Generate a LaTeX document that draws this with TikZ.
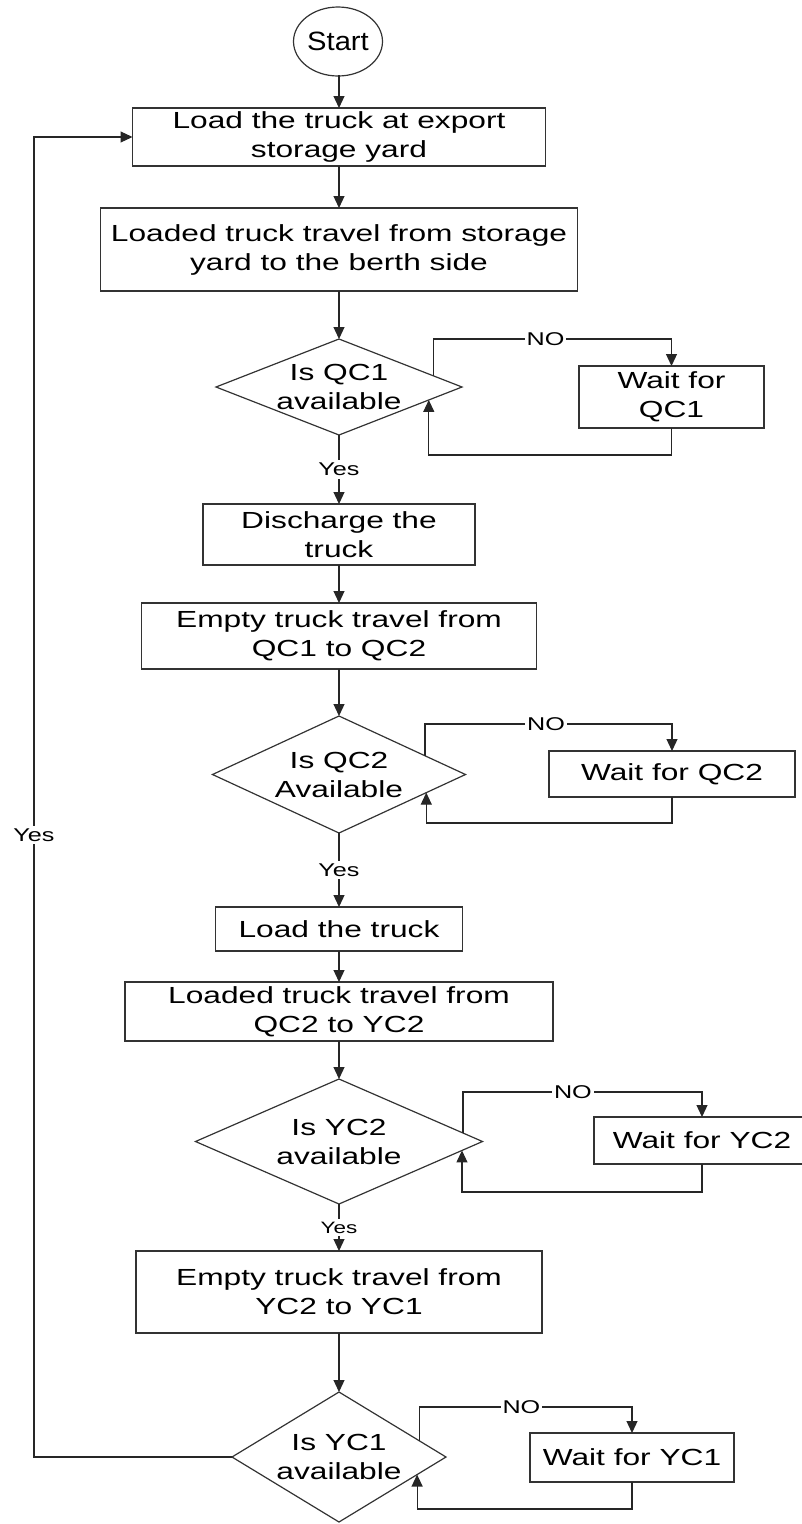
\documentclass[tikz,border=0pt]{standalone}
\usepackage{fontspec}
\setmainfont{Liberation Sans}[FakeStretch=1.36]
\newfontfamily\startfont{Liberation Sans}[FakeStretch=1.1]
\usetikzlibrary{shapes.geometric,arrows.meta,calc}

\begin{document}
\begin{tikzpicture}[x=1pt,y=-1pt,
  line/.style={draw=black!85, line width=1.2pt},
  arr/.style={line, -{Triangle[length=12pt,width=11pt]}},
  mainfont/.style={font=\fontsize{23.3}{29}\selectfont},
  stepbox/.style={draw=black!80, line width=1.2pt, rectangle, inner sep=0pt,
    outer sep=0pt, align=center, mainfont},
  terminal/.style={draw=black!80, line width=1.2pt, ellipse, inner sep=0pt,
    outer sep=0pt, font=\startfont\fontsize{26.5}{29}\selectfont},
  decision/.style={draw=black!80, line width=1.2pt, diamond, inner sep=0pt,
    outer sep=0pt},
  qtext/.style={align=center, inner sep=0pt, mainfont},
  lbl/.style={fill=white, inner xsep=2pt, inner ysep=3pt,
    font=\fontsize{18.5}{20}\selectfont},
  lblsmall/.style={lbl, font=\fontsize{16.5}{18}\selectfont},
]
\useasboundingbox (0,0) rectangle (801,1524);

% ---- main column ----
\node[terminal, minimum width=89pt, minimum height=69pt] (start) at (338,41.5) {Start};
\node[stepbox, minimum width=413pt, minimum height=58pt] (b1) at (339,137)
  {Load the truck at export\\storage yard};
\node[stepbox, minimum width=477pt, minimum height=83pt] (b2) at (339,249.5)
  {Loaded truck travel from storage\\yard to the berth side};
\node[decision, minimum width=246pt, minimum height=96pt] (d1) at (339,387) {};
\node[qtext] (t1) at (d1) {Is QC1\\available};
\node[stepbox, minimum width=272pt, minimum height=61pt] (b3) at (339,534.5)
  {Discharge the\\truck};
\node[stepbox, minimum width=395pt, minimum height=66pt] (b4) at (339,636)
  {Empty truck travel from\\QC1 to QC2};
\node[decision, minimum width=253pt, minimum height=117pt] (d2) at (339,774.5) {};
\node[qtext] (t2) at (d2) {Is QC2\\Available};
\node[stepbox, minimum width=247pt, minimum height=44pt] (b5) at (339,929)
  {Load the truck};
\node[stepbox, minimum width=428pt, minimum height=59pt] (b6) at (339,1011.5)
  {Loaded truck travel from\\QC2 to YC2};
\node[decision, minimum width=287pt, minimum height=125pt] (d3) at (339,1141.5) {};
\node[qtext] (t3) at (d3) {Is YC2\\available};
\node[stepbox, minimum width=406pt, minimum height=82pt] (b7) at (339,1292)
  {Empty truck travel from\\YC2 to YC1};
\node[decision, minimum width=214pt, minimum height=130pt] (d4) at (339,1457) {};
\node[qtext] (t4) at (d4) {Is YC1\\available};

% ---- waiting boxes ----
\node[stepbox, minimum width=185pt, minimum height=62pt] (w1) at (671.5,397)
  {Wait for\\QC1};
\node[stepbox, minimum width=246pt, minimum height=46pt] (w2) at (672,774)
  {Wait for QC2};
\node[stepbox, minimum width=216pt, minimum height=47pt] (w3) at (702,1140.5)
  {Wait for YC2};
\node[stepbox, minimum width=204pt, minimum height=49pt] (w4) at (632,1457.5)
  {Wait for YC1};

% ---- main flow ----
\draw[arr] (start.south) -- (start.south -| b1.north) -- (b1.north);
\draw[arr] (b1.south) -- (b2.north);
\draw[arr] (b2.south) -- (d1.north);
\draw[arr] (d1.south) -- node[lbl] {Yes} (b3.north);
\draw[arr] (b3.south) -- (b4.north);
\draw[arr] (b4.south) -- (d2.north);
\draw[arr] (d2.south) -- node[lbl] {Yes} (b5.north);
\draw[arr] (b5.south) -- (b6.north);
\draw[arr] (b6.south) -- (d3.north);
\draw[arr] (d3.south) -- node[lblsmall] {Yes} (b7.north);
\draw[arr] (b7.south) -- (d4.north);

% ---- exit and return points on the diamond edges ----
\path (d1.east) -- (d1.north) coordinate[pos=0.23] (d1o);
\path (d1.east) -- (d1.south) coordinate[pos=0.27] (d1i);
\path (d2.east) -- (d2.north) coordinate[pos=0.32] (d2o);
\path (d2.east) -- (d2.south) coordinate[pos=0.31] (d2i);
\path (d3.east) -- (d3.north) coordinate[pos=0.136] (d3o);
\path (d3.east) -- (d3.south) coordinate[pos=0.143] (d3i);
\path (d4.east) -- (d4.north) coordinate[pos=0.25] (d4o);
\path (d4.east) -- (d4.south) coordinate[pos=0.27] (d4i);

% levels of the loop lines
\coordinate (up1) at (0,339);   \coordinate (dn1) at (0,455);
\coordinate (up2) at (0,724);   \coordinate (dn2) at (0,823);
\coordinate (up3) at (0,1092);  \coordinate (dn3) at (0,1192);
\coordinate (up4) at (0,1407);  \coordinate (dn4) at (0,1509);

% ---- NO loops ----
\draw[arr] (d1o) -- (d1o |- up1) -- node[lbl, pos=0.47] {NO} (w1.north |- up1) -- (w1.north);
\draw[arr] (w1.south) -- (w1.south |- dn1) -- (d1i |- dn1) -- (d1i);

\draw[arr] (d2o) -- (d2o |- up2) -- node[lbl, pos=0.49] {NO} (w2.north |- up2) -- (w2.north);
\draw[arr] (w2.south) -- (w2.south |- dn2) -- (d2i |- dn2) -- (d2i);

\draw[arr] (d3o) -- (d3o |- up3) -- node[lbl, pos=0.46] {NO} (w3.north |- up3) -- (w3.north);
\draw[arr] (w3.south) -- (w3.south |- dn3) -- (d3i |- dn3) -- (d3i);

\draw[arr] (d4o) -- (d4o |- up4) -- node[lbl, pos=0.48] {NO} (w4.north |- up4) -- (w4.north);
\draw[arr] (w4.south) -- (w4.south |- dn4) -- (d4i |- dn4) -- (d4i);

% ---- back to the start of the cycle ----
\coordinate (lx) at (34,0);
\draw[arr] (d4.west) -- (d4.west -| lx) -- (lx |- b1.west) -- (b1.west);
\node[lbl] (yesback) at (34,835) {Yes};
\end{tikzpicture}
\end{document}
